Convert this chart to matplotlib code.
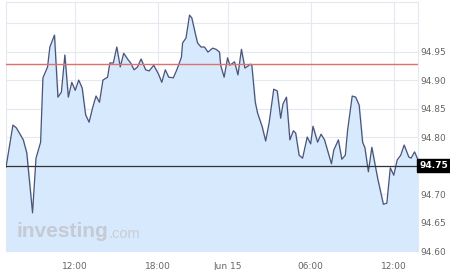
import matplotlib
matplotlib.use("Agg")
import matplotlib.pyplot as plt

# 5-minute bar index (from 07:00, with the overnight pause removed) and price
bars = [0, 6, 9, 13, 15, 18, 23, 26, 30, 32, 36, 38, 42, 45, 48, 51, 54, 57, 60, 63,
        66, 69, 72, 75, 78, 81, 84, 88, 90, 93, 96, 99, 102, 106, 108, 111, 114, 117, 121, 124,
        128, 132, 135, 138, 141, 145, 148, 152, 153, 156, 159, 161, 164, 166, 169, 172, 175, 179, 182, 185,
        186, 189, 192, 194, 198, 201, 204, 207, 212, 213, 216, 218, 222, 225, 228, 232, 235, 238, 240, 243,
        246, 249, 251, 254, 257, 261, 264, 266, 270, 273, 276, 282, 284, 288, 291, 294, 296, 300, 303, 306,
        309, 311, 314, 317, 322, 327, 330, 333, 336, 339, 342, 345, 349, 351, 354, 357]
price = [94.747, 94.821, 94.816, 94.802, 94.795, 94.772, 94.667, 94.763, 94.791, 94.904,
         94.923, 94.958, 94.979, 94.870, 94.879, 94.944, 94.870, 94.896, 94.882, 94.900,
         94.886, 94.839, 94.826, 94.851, 94.872, 94.861, 94.900, 94.905, 94.930, 94.930,
         94.958, 94.923, 94.947, 94.935, 94.930, 94.918, 94.923, 94.937, 94.918, 94.916,
         94.926, 94.911, 94.896, 94.918, 94.905, 94.904, 94.918, 94.940, 94.965, 94.974,
         95.014, 95.009, 94.982, 94.965, 94.958, 94.958, 94.949, 94.956, 94.954, 94.949,
         94.926, 94.905, 94.939, 94.926, 94.932, 94.909, 94.954, 94.921, 94.928, 94.926,
         94.861, 94.842, 94.818, 94.793, 94.825, 94.884, 94.881, 94.833, 94.858, 94.870,
         94.795, 94.811, 94.807, 94.768, 94.763, 94.800, 94.788, 94.819, 94.791, 94.805,
         94.795, 94.753, 94.777, 94.795, 94.761, 94.768, 94.812, 94.872, 94.870, 94.856,
         94.791, 94.781, 94.739, 94.782, 94.728, 94.682, 94.684, 94.746, 94.733, 94.760,
         94.768, 94.786, 94.765, 94.763, 94.774, 94.760]

x_ticks = [60, 132, 192, 264, 336]
x_labels = ["12:00", "18:00", "Jun 15", "06:00", "12:00"]
y_ticks = [94.60, 94.65, 94.70, 94.75, 94.80, 94.85, 94.90, 94.95, 95.00]
y_labels = ["94.60", "94.65", "94.70", "", "94.80", "94.85", "94.90", "94.95", ""]
red_level = 94.929
last_price = 94.75

fig = plt.figure(figsize=(4.5, 2.7), dpi=100)
ax = fig.add_axes([6 / 450, 1 - 251 / 270, 412 / 450, 249 / 270])

ax.fill_between(bars, price, 94.60, color="#d7e9fd", zorder=1)
ax.plot(bars, price, color="#4b5478", lw=0.9, zorder=3)
ax.axhline(red_level, color="#e07070", lw=1.0, zorder=4)
ax.axhline(last_price, color="#333333", lw=0.9, zorder=4)

ax.set_xlim(0, 357)
ax.set_ylim(94.60, 95.037)
ax.set_xticks(x_ticks)
ax.set_xticklabels(x_labels)
ax.set_yticks(y_ticks)
ax.set_yticklabels(y_labels)
ax.yaxis.tick_right()
ax.grid(True, color="#e4e8f0", lw=0.8, zorder=0)
ax.set_axisbelow(True)
ax.tick_params(axis="both", length=0, labelsize=6.5, labelcolor="#666666")
ax.tick_params(axis="x", pad=8)
ax.tick_params(axis="y", pad=2)
for side in ["top", "left", "right"]:
    ax.spines[side].set_color("#e4e8f0")
ax.spines["bottom"].set_visible(False)

ax.text(1.003, last_price, "94.75", transform=ax.get_yaxis_transform(),
        ha="left", va="center", fontsize=6.5, color="white", fontweight="bold",
        bbox=dict(boxstyle="square,pad=0.25", fc="black", ec="black"), zorder=6)

wm = ax.text(0.025, 0.055, "investing", transform=ax.transAxes, fontsize=15,
             fontweight="bold", color="#c5cad3",
             family=["Liberation Sans Narrow", "Liberation Sans"], zorder=2)
ax.annotate(".com", xy=(1, 0), xycoords=wm, xytext=(0.3, 0), textcoords="offset points",
            ha="left", va="bottom", fontsize=10.5, color="#c8cdd6",
            family=["Liberation Sans Narrow", "Liberation Sans"], zorder=2)

fig.savefig("out.png", dpi=100)
